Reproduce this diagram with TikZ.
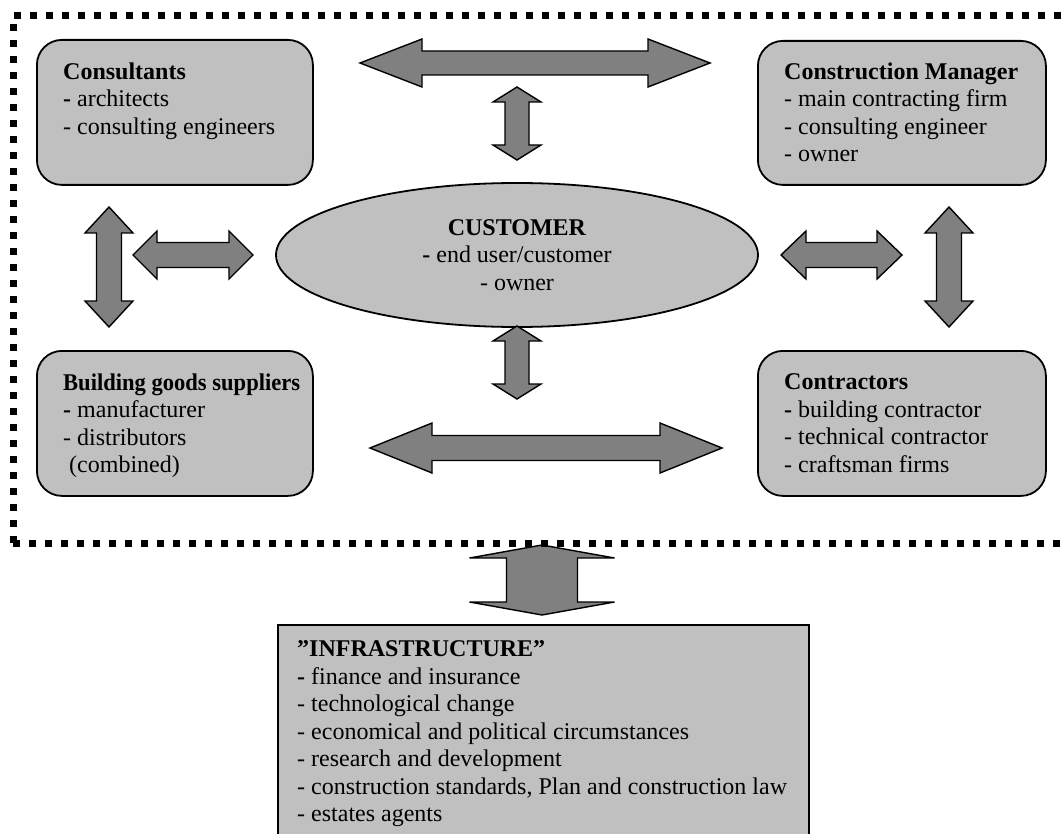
\documentclass[tikz,border=0pt]{standalone}
\usepackage{fontspec}
\setmainfont{Liberation Serif}
\usetikzlibrary{shapes.geometric}
\definecolor{boxgray}{gray}{0.753}
\definecolor{arrowgray}{gray}{0.502}

% Horizontal double block arrow: x1, x2, y, head length, head half-width, shaft half-width
\newcommand\HArrow[6]{%
  \filldraw[blockarrow] (#1,#3) -- ({#1+#4},{#3-#5}) -- ({#1+#4},{#3-#6})
    -- ({#2-#4},{#3-#6}) -- ({#2-#4},{#3-#5}) -- (#2,#3)
    -- ({#2-#4},{#3+#5}) -- ({#2-#4},{#3+#6}) -- ({#1+#4},{#3+#6})
    -- ({#1+#4},{#3+#5}) -- cycle;}
% Vertical double block arrow: x, y1, y2, head length, head half-width, shaft half-width
\newcommand\VArrow[6]{%
  \filldraw[blockarrow] (#1,#2) -- ({#1+#5},{#2+#4}) -- ({#1+#6},{#2+#4})
    -- ({#1+#6},{#3-#4}) -- ({#1+#5},{#3-#4}) -- (#1,#3)
    -- ({#1-#5},{#3-#4}) -- ({#1-#6},{#3-#4}) -- ({#1-#6},{#2+#4})
    -- ({#1-#5},{#2+#4}) -- cycle;}

\begin{document}
\begin{tikzpicture}[x=1pt, y=-1pt,
  party/.style={draw=black, line width=1.8pt, fill=boxgray, rounded corners=25pt,
    inner sep=0pt, anchor=north west},
  blockarrow/.style={fill=arrowgray, draw=black, line width=1.4pt, line join=miter},
  txt/.style={inner sep=0pt, align=left, font=\fontsize{24}{27.5}\selectfont},
  border/.style={line width=7pt, dash pattern=on 7pt off 9pt}]
\useasboundingbox (0,0) rectangle (1062,834);
\clip (0,0) rectangle (1062,834);

% parties in the building process
\node[party, minimum width=276pt, minimum height=145pt] (consult) at (36,39) {};
\node[party, minimum width=288pt, minimum height=144pt] (cm) at (757,40) {};
\node[party, minimum width=276pt, minimum height=145pt] (suppliers) at (36,350) {};
\node[party, minimum width=288pt, minimum height=145pt] (contractors) at (757,350) {};
\node[ellipse, draw=black, line width=1.8pt, fill=boxgray, inner sep=0pt,
  minimum width=482pt, minimum height=144pt] (customer) at (517,255) {};

\node[txt, anchor=north west] (consulttxt) at (63,62.6)
  {\textbf{Consultants}\\\textbf{-} architects\\- consulting engineers};
\node[txt, anchor=north west] (cmtxt) at (784,62.6)
  {\textbf{Construction Manager}\\- main contracting firm\\- consulting engineer\\- owner};
\node[txt, anchor=north west] (supplierstxt) at (63,373.6)
  {\scalebox{0.94}[1]{\textbf{Building goods suppliers}}\\\textbf{-} manufacturer\\- distributors\\\hspace{0.25em}(combined)};
\node[txt, anchor=north west] (contractorstxt) at (784,373.6)
  {\textbf{Contractors}\\\textbf{-} building contractor\\- technical contractor\\- craftsman firms};
\node[txt, align=center, anchor=north] (customertxt) at (517,219)
  {\textbf{CUSTOMER}\\\textbf{-} end user/customer\\- owner};

% relations inside the process
\HArrow{360}{710}{63}{62}{24}{12}
\VArrow{517}{87}{160}{15}{24}{12}
\VArrow{109}{207}{327}{26}{24}{12.5}
\HArrow{133}{253}{255}{24}{24}{12.5}
\HArrow{781}{902}{255}{25}{24}{12.5}
\VArrow{949}{207}{327}{26}{24}{12.5}
\VArrow{517}{326}{399}{15}{24}{12}
\HArrow{370}{722}{448}{62}{25}{12.5}

% link to the surrounding infrastructure
\VArrow{542}{545}{615}{13}{72.5}{35.5}
\node[draw=black, line width=1.8pt, fill=boxgray, inner sep=0pt, anchor=north west,
  minimum width=531pt, minimum height=240pt] (infra) at (277,624) {};
\node[txt, anchor=north west] (infratxt) at (297,640.6)
  {\textbf{”INFRASTRUCTURE”}\\\textbf{-} finance and insurance\\- technological change\\- economical and political circumstances\\- research and development\\- construction standards, Plan and construction law\\- estates agents};

% boundary of the building process
\draw[border] (13,543) -- (13,16) -- (1070,16);
\draw[border] (13,543) -- (1070,543);
\end{tikzpicture}
\end{document}
